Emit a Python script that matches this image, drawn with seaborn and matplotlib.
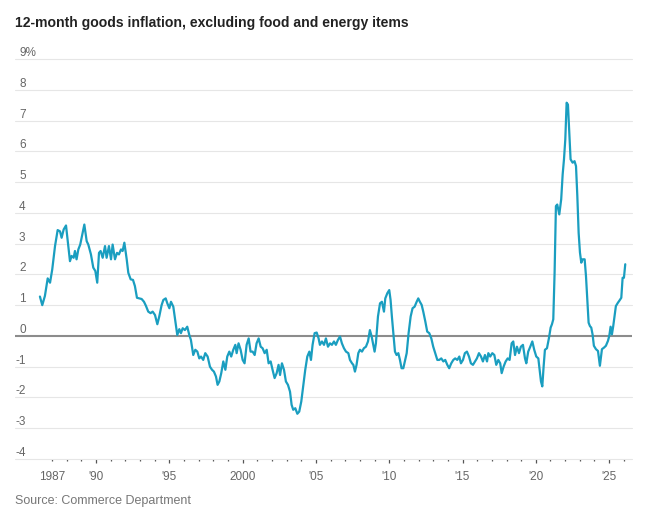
import pandas as pd
import seaborn as sns
import matplotlib.pyplot as plt
from matplotlib.transforms import blended_transform_factory, offset_copy

# values, decimal years / percent, by stretch
years_86_92 = [1986.17, 1986.33, 1986.51, 1986.70, 1986.86, 1987.01, 1987.20, 1987.38, 1987.54, 1987.65,
               1987.79, 1987.95, 1988.11, 1988.22, 1988.33, 1988.47, 1988.56, 1988.67, 1988.79, 1988.92,
               1989.06, 1989.20, 1989.36, 1989.47, 1989.65, 1989.81, 1989.95, 1990.08, 1990.20, 1990.31,
               1990.45, 1990.61, 1990.72, 1990.88, 1991.02, 1991.13, 1991.29, 1991.43, 1991.56, 1991.70,
               1991.81, 1991.93, 1992.09, 1992.20, 1992.36, 1992.52, 1992.65, 1992.79]
vals_86_92 = [1.28, 1.0, 1.3, 1.87, 1.73, 2.16, 2.92, 3.44, 3.4, 3.19,
              3.46, 3.59, 2.92, 2.43, 2.6, 2.54, 2.76, 2.49, 2.81, 2.97,
              3.3, 3.62, 3.08, 2.97, 2.65, 2.22, 2.11, 1.73, 2.7, 2.76,
              2.54, 2.92, 2.54, 2.92, 2.49, 2.97, 2.49, 2.7, 2.65, 2.81,
              2.76, 3.03, 2.49, 2.05, 1.84, 1.82, 1.62, 1.24]

years_93_00 = [1993.11, 1993.27, 1993.40, 1993.56, 1993.72, 1993.86, 1994.02, 1994.18, 1994.31, 1994.47,
               1994.59, 1994.75, 1994.86, 1995.00, 1995.11, 1995.27, 1995.38, 1995.54, 1995.68, 1995.79,
               1995.91, 1996.06, 1996.22, 1996.36, 1996.47, 1996.63, 1996.77, 1996.91, 1997.04, 1997.16,
               1997.31, 1997.45, 1997.61, 1997.77, 1997.91, 1998.04, 1998.18, 1998.29, 1998.41, 1998.54,
               1998.68, 1998.82, 1998.95, 1999.09, 1999.22, 1999.36, 1999.50, 1999.59, 1999.72, 1999.86,
               2000.00, 2000.13, 2000.27, 2000.41]
vals_93_00 = [1.2, 1.11, 0.98, 0.79, 0.74, 0.79, 0.68, 0.38, 0.63, 1.0,
              1.17, 1.22, 1.06, 0.9, 1.11, 0.95, 0.57, 0.03, 0.22, 0.09,
              0.25, 0.19, 0.3, 0.03, -0.13, -0.62, -0.45, -0.51, -0.73, -0.67,
              -0.78, -0.56, -0.67, -1.0, -1.1, -1.16, -1.32, -1.59, -1.48, -1.21,
              -0.83, -1.1, -0.67, -0.51, -0.67, -0.45, -0.29, -0.56, -0.24, -0.45,
              -0.78, -0.89, -0.29, -0.08]

years_00_07 = [2000.54, 2000.68, 2000.82, 2000.95, 2001.09, 2001.23, 2001.36, 2001.50, 2001.64, 2001.77,
               2001.91, 2002.04, 2002.18, 2002.32, 2002.45, 2002.55, 2002.68, 2002.82, 2002.95, 2003.09,
               2003.23, 2003.34, 2003.45, 2003.59, 2003.73, 2003.86, 2004.00, 2004.14, 2004.27, 2004.41,
               2004.55, 2004.66, 2004.77, 2004.91, 2005.05, 2005.18, 2005.27, 2005.41, 2005.55, 2005.68,
               2005.82, 2005.96, 2006.09, 2006.23, 2006.36, 2006.50, 2006.64, 2006.77, 2006.91, 2007.05,
               2007.21, 2007.32]
vals_00_07 = [-0.51, -0.51, -0.62, -0.24, -0.08, -0.35, -0.4, -0.56, -0.45, -0.89,
              -0.83, -1.1, -1.37, -1.21, -0.94, -1.27, -0.89, -1.1, -1.48, -1.59,
              -1.81, -2.24, -2.4, -2.35, -2.53, -2.46, -2.13, -1.59, -1.1, -0.67,
              -0.51, -0.78, -0.29, 0.09, 0.11, -0.08, -0.29, -0.18, -0.29, -0.08,
              -0.35, -0.24, -0.29, -0.18, -0.29, -0.13, -0.02, -0.24, -0.4, -0.51,
              -0.56, -0.78]

years_07_14 = [2007.46, 2007.55, 2007.66, 2007.77, 2007.89, 2008.00, 2008.14, 2008.27, 2008.41, 2008.55,
               2008.68, 2008.80, 2008.91, 2009.00, 2009.09, 2009.23, 2009.37, 2009.50, 2009.64, 2009.73,
               2009.87, 2010.00, 2010.09, 2010.18, 2010.28, 2010.39, 2010.50, 2010.62, 2010.73, 2010.84,
               2010.96, 2011.09, 2011.19, 2011.32, 2011.46, 2011.59, 2011.73, 2011.87, 2011.98, 2012.09,
               2012.21, 2012.32, 2012.46, 2012.59, 2012.73, 2012.87, 2013.00, 2013.14, 2013.28, 2013.41,
               2013.55, 2013.69, 2013.82, 2013.96, 2014.09, 2014.23, 2014.37, 2014.50, 2014.64, 2014.78]
vals_07_14 = [-0.89, -0.94, -1.16, -0.94, -0.56, -0.45, -0.51, -0.4, -0.35, -0.18,
              0.19, -0.02, -0.29, -0.51, -0.24, 0.63, 1.06, 1.11, 0.79, 1.22,
              1.39, 1.49, 1.17, 0.63, 0.09, -0.51, -0.62, -0.56, -0.78, -1.05,
              -1.05, -0.78, -0.56, 0.09, 0.63, 0.9, 0.95, 1.11, 1.22, 1.11,
              1.01, 0.79, 0.47, 0.14, 0.09, -0.08, -0.35, -0.56, -0.78, -0.78,
              -0.73, -0.83, -0.78, -0.94, -1.05, -0.89, -0.78, -0.73, -0.78, -0.67]

years_14_20 = [2014.89, 2015.03, 2015.16, 2015.30, 2015.44, 2015.57, 2015.71, 2015.85, 2015.98, 2016.12,
               2016.26, 2016.39, 2016.53, 2016.67, 2016.76, 2016.89, 2017.03, 2017.17, 2017.30, 2017.44,
               2017.57, 2017.67, 2017.80, 2017.94, 2018.08, 2018.21, 2018.35, 2018.46, 2018.58, 2018.71,
               2018.85, 2018.98, 2019.12, 2019.26, 2019.35, 2019.48, 2019.62, 2019.76, 2019.89, 2020.03,
               2020.17, 2020.26, 2020.35, 2020.44, 2020.53, 2020.62, 2020.76, 2020.89]
vals_14_20 = [-0.89, -0.78, -0.56, -0.51, -0.67, -0.89, -0.94, -0.83, -0.73, -0.56,
              -0.67, -0.83, -0.62, -0.83, -0.56, -0.67, -0.56, -0.62, -0.94, -0.78,
              -0.89, -1.21, -1.0, -0.83, -0.73, -0.78, -0.24, -0.18, -0.62, -0.35,
              -0.56, -0.35, -0.29, -0.73, -0.89, -0.51, -0.35, -0.18, -0.45, -0.67,
              -0.73, -1.1, -1.48, -1.64, -1.0, -0.45, -0.4, -0.08]

years_21_26 = [2021.01, 2021.10, 2021.19, 2021.28, 2021.37, 2021.46, 2021.60, 2021.73, 2021.83, 2021.92,
               2022.01, 2022.10, 2022.19, 2022.28, 2022.37, 2022.51, 2022.64, 2022.74, 2022.83, 2022.92,
               2023.01, 2023.10, 2023.19, 2023.33, 2023.42, 2023.51, 2023.60, 2023.69, 2023.78, 2023.87,
               2023.96, 2024.10, 2024.24, 2024.37, 2024.51, 2024.65, 2024.78, 2024.92, 2025.01, 2025.10,
               2025.19, 2025.28, 2025.37, 2025.46, 2025.60, 2025.69, 2025.83, 2025.92, 2026.01, 2026.10]
vals_21_26 = [0.27, 0.38, 0.54, 2.06, 4.22, 4.27, 3.95, 4.44, 5.25, 5.74,
              6.39, 7.58, 7.52, 6.6, 5.74, 5.63, 5.68, 5.52, 4.55, 3.35,
              2.71, 2.38, 2.49, 2.49, 1.95, 1.19, 0.43, 0.32, 0.27, 0.05,
              -0.32, -0.43, -0.49, -0.97, -0.43, -0.38, -0.32, -0.16, 0.0, 0.3,
              0.05, 0.32, 0.65, 0.97, 1.08, 1.14, 1.24, 1.89, 1.89, 2.33]

y_ticks = [9, 8, 7, 6, 5, 4, 3, 2, 1, 0, -1, -2, -3, -4]
y_labels = ['9%', '8', '7', '6', '5', '4', '3', '2', '1', '0', '-1', '-2', '-3', '-4']
x_major = [1990, 1995, 2000, 2005, 2010, 2015, 2020, 2025]
x_major_labels = ["'90", "'95", '2000', "'05", "'10", "'15", "'20", "'25"]
x_minor = list(range(1987, 2027))

title = '12-month goods inflation, excluding food and energy items'
source = 'Source: Commerce Department'

years = years_86_92 + years_93_00 + years_00_07 + years_07_14 + years_14_20 + years_21_26
vals = vals_86_92 + vals_93_00 + vals_00_07 + vals_07_14 + vals_14_20 + vals_21_26
df = pd.DataFrame({'year': years, 'pct': vals})

sns.set_theme(style='white')
plt.rcParams['font.family'] = ['Liberation Sans', 'DejaVu Sans']

W, H = 650, 517
fig = plt.figure(figsize=(W / 100, H / 100), dpi=100)
ax = fig.add_axes([15 / W, 1 - 459 / H, 617 / W, (459 - 54.4) / H])

sns.lineplot(data=df, x='year', y='pct', ax=ax, color='#1a9ec0', lw=1.6,
             sort=False, estimator=None, zorder=3)

ax.set_xlim(1984.47, 2026.56)
ax.set_ylim(-4, 9.15)

# grid + zero line
for v in y_ticks:
    if v != 0:
        ax.axhline(v, color='#e6e6e6', lw=0.8, zorder=1, clip_on=False)
ax.axhline(0, color='#8c8c8c', lw=1.5, zorder=2)

# y labels sit on top of the grid lines
trans = blended_transform_factory(ax.transAxes, ax.transData)
for v, lab in zip(y_ticks, y_labels):
    dx = 0 if lab.startswith('-') else 4
    t = offset_copy(trans, fig=fig, x=dx, y=3, units='dots')
    ax.text(0, v, lab, transform=t, ha='left', va='baseline', fontsize=8.5, color='#666666')

ax.set_yticks([])
ax.set_xticks(x_major)
ax.set_xticklabels(x_major_labels)
ax.set_xticks(x_minor, labels=['1987' if y == 1987 else '' for y in x_minor], minor=True)
ax.tick_params(axis='x', which='both', bottom=True, color='#555555', width=0.9,
               labelsize=8.5, labelcolor='#666666')
ax.tick_params(axis='x', which='major', length=3, pad=5.5)
ax.tick_params(axis='x', which='minor', length=1.3, pad=7.2)
for s in ax.spines.values():
    s.set_visible(False)
ax.set_xlabel('')
ax.set_ylabel('')

fig.text(15 / W, 1 - 23 / H, title, fontsize=10.1, fontweight='bold', color='#222222', va='center')
fig.text(15 / W, 1 - 501 / H, source, fontsize=9, color='#777777', va='center')

fig.savefig('out.png', dpi=100)
